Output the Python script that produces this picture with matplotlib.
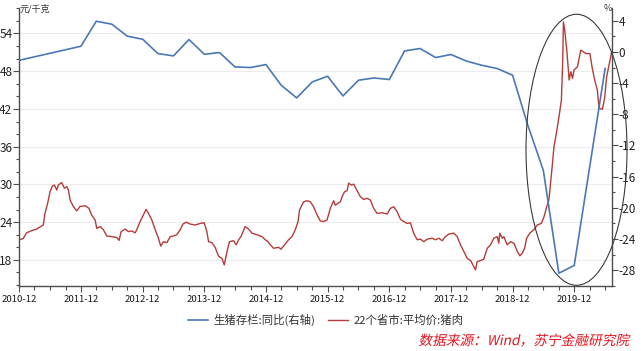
import numpy as np
import pandas as pd
import matplotlib
matplotlib.use("Agg")
import matplotlib.pyplot as plt
import matplotlib.dates as mdates
from matplotlib.patches import Ellipse, PathPatch
from matplotlib.textpath import TextPath
from matplotlib.font_manager import FontProperties
from matplotlib.transforms import Affine2D, IdentityTransform
from matplotlib.ticker import MultipleLocator

plt.rcParams["font.family"] = ["Noto Sans CJK SC", "DejaVu Sans"]
plt.rcParams["axes.unicode_minus"] = False

# 生猪存栏:同比 (%), quarterly, right axis
stock_dates = ["2010-12-01", "2011-12-01",
               "2012-03-01", "2012-06-01", "2012-09-01", "2012-12-01",
               "2013-03-01", "2013-06-01", "2013-09-01", "2013-12-01",
               "2014-03-01", "2014-06-01", "2014-09-01", "2014-12-01",
               "2015-03-01", "2015-06-01", "2015-09-01", "2015-12-01",
               "2016-03-01", "2016-06-01", "2016-09-01", "2016-12-01",
               "2017-03-01", "2017-06-01", "2017-09-01", "2017-12-01",
               "2018-03-01", "2018-06-01", "2018-09-01", "2018-12-01",
               "2019-03-01", "2019-06-01", "2019-09-01", "2019-12-01",
               "2020-06-01"]
stock_yoy = [-1.07, 0.73,
             3.94, 3.56, 2.02, 1.63,
             -0.21, -0.51, 1.59, -0.30,
             -0.08, -1.93, -2.0, -1.62,
             -4.27, -5.9, -3.85, -3.12,
             -5.65, -3.63, -3.34, -3.54,
             0.13, 0.44, -0.72, -0.33,
             -1.16, -1.71, -2.13, -2.99,
             -9.4, -15.2, -28.4, -27.4,
             -2.13]

# 22个省市:平均价:猪肉 (元/千克), left axis
price_dates = [
    "2010-12-01", "2010-12-24", "2011-01-13", "2011-02-12", "2011-03-14", "2011-04-13", "2011-04-22",
    "2011-05-02", "2011-05-18", "2011-06-01", "2011-06-15", "2011-06-27", "2011-07-11", "2011-07-20",
    "2011-08-09", "2011-08-25", "2011-09-08", "2011-09-18", "2011-09-28", "2011-10-17", "2011-11-06",
    "2011-11-26", "2011-12-26", "2012-01-18", "2012-02-03", "2012-02-23", "2012-03-04", "2012-03-24",
    "2012-04-12", "2012-05-02", "2012-06-01", "2012-07-01", "2012-07-14", "2012-07-26", "2012-08-19",
    "2012-09-07", "2012-09-28", "2012-10-17", "2012-10-27", "2012-11-16", "2012-12-05", "2012-12-21",
    "2013-01-04", "2013-01-24", "2013-02-13", "2013-03-04", "2013-03-18", "2013-04-03", "2013-04-23",
    "2013-05-13", "2013-06-01", "2013-06-21", "2013-07-11", "2013-07-27", "2013-08-16", "2013-09-08",
    "2013-10-08", "2013-11-07", "2013-11-30", "2013-12-16", "2013-12-26", "2014-01-15", "2014-02-03",
    "2014-02-23", "2014-03-15", "2014-03-29", "2014-04-14", "2014-04-29", "2014-05-23", "2014-06-08",
    "2014-06-22", "2014-07-06", "2014-07-21", "2014-07-31", "2014-08-20", "2014-09-09", "2014-10-09",
    "2014-11-07", "2014-11-27", "2014-12-13", "2014-12-27", "2015-01-15", "2015-02-14", "2015-02-28",
    "2015-03-21", "2015-04-14", "2015-05-04", "2015-05-24", "2015-06-09", "2015-06-18", "2015-07-12",
    "2015-08-01", "2015-08-21", "2015-09-09", "2015-09-30", "2015-10-19", "2015-11-08", "2015-11-28",
    "2015-12-17", "2016-01-06", "2016-01-16", "2016-01-30", "2016-02-15", "2016-02-25", "2016-03-11",
    "2016-03-26", "2016-04-04", "2016-04-20", "2016-05-04", "2016-05-24", "2016-06-12", "2016-07-02",
    "2016-07-22", "2016-08-11", "2016-08-30", "2016-09-19", "2016-10-19", "2016-11-18", "2016-12-07",
    "2016-12-27", "2017-01-16", "2017-02-05", "2017-02-24", "2017-03-16", "2017-04-05", "2017-04-24",
    "2017-05-15", "2017-06-03", "2017-06-23", "2017-07-13", "2017-08-12", "2017-08-31", "2017-09-20",
    "2017-10-10", "2017-10-29", "2017-11-18", "2017-12-18", "2018-01-07", "2018-01-26", "2018-02-15",
    "2018-03-07", "2018-03-27", "2018-04-15", "2018-04-25", "2018-05-05", "2018-05-25", "2018-06-13",
    "2018-07-04", "2018-07-23", "2018-08-12", "2018-09-01", "2018-09-10", "2018-09-16", "2018-10-01",
    "2018-10-10", "2018-10-30", "2018-11-19", "2018-12-09", "2018-12-29", "2019-01-13", "2019-01-28",
    "2019-02-10", "2019-02-22", "2019-03-13", "2019-04-06", "2019-04-26", "2019-05-20", "2019-06-05",
    "2019-06-21", "2019-07-04", "2019-07-24", "2019-08-03", "2019-08-19", "2019-09-02", "2019-09-16",
    "2019-09-24", "2019-09-28", "2019-10-06", "2019-10-18", "2019-11-01", "2019-11-11", "2019-11-21",
    "2019-11-30", "2019-12-20", "2020-01-09", "2020-01-24", "2020-02-07", "2020-03-03", "2020-03-17",
    "2020-03-31", "2020-04-16", "2020-04-26", "2020-05-16", "2020-05-29", "2020-06-10", "2020-06-30",
    "2020-07-10"]
price_vals = [
    21.2, 21.4, 22.3, 22.65, 22.9, 23.4, 23.55,
    25.4, 27.0, 28.85, 29.75, 29.9, 29.1, 29.9,
    30.3, 29.4, 29.65, 29.1, 27.5, 26.5, 25.8,
    26.5, 26.6, 26.2, 25.1, 24.35, 23.0, 23.3,
    22.8, 21.8, 21.7, 21.55, 21.1, 22.5, 22.9,
    22.5, 22.6, 22.3, 22.8, 24.1, 25.15, 26.05,
    25.4, 24.35, 22.8, 21.45, 20.2, 20.9, 20.75,
    21.7, 21.8, 22.0, 22.8, 23.7, 24.0, 23.7,
    23.55, 23.8, 23.9, 22.5, 20.9, 20.75, 20.0,
    18.6, 18.25, 17.2, 19.3, 20.9, 21.05, 20.4,
    21.2, 21.7, 22.65, 23.3, 22.9, 22.25, 22.0,
    21.7, 21.2, 20.9, 20.4, 19.85, 20.0, 19.7,
    20.4, 21.2, 21.7, 22.8, 24.1, 25.95, 27.25,
    27.4, 27.25, 26.45, 25.15, 24.2, 24.1, 24.35,
    26.2, 27.4, 26.7, 26.95, 27.25, 28.05, 28.85,
    29.0, 30.2, 29.9, 30.05, 29.0, 28.05, 27.6,
    27.8, 27.5, 26.2, 25.4, 25.5, 25.3, 26.2,
    26.45, 25.65, 24.45, 24.1, 23.8, 23.9, 22.25,
    21.2, 21.3, 20.9, 21.3, 21.45, 21.2, 21.45,
    21.05, 21.7, 22.1, 22.25, 21.7, 20.4, 19.35,
    18.25, 17.9, 16.95, 16.4, 17.7, 17.9, 18.1,
    19.85, 20.4, 21.45, 21.7, 20.65, 22.25, 21.45,
    21.7, 20.4, 20.9, 20.65, 19.35, 18.65, 19.1,
    19.85, 21.45, 22.25, 22.8, 23.55, 23.8, 24.85,
    26.45, 27.5, 33.0, 36.0, 38.4, 40.8, 43.4,
    49.75, 55.85, 54.5, 51.35, 46.6, 47.9, 46.85,
    48.2, 48.7, 51.35, 51.1, 50.8, 50.8, 48.45,
    46.6, 45.0, 42.1, 41.95, 43.7, 47.1, 49.75,
    51.1]

left_ticks = [18, 24, 30, 36, 42, 48, 54]
right_ticks = [-28, -24, -20, -16, -12, -8, -4, 0, 4]

BLUE = "#4a78b5"
RED = "#b43c3a"
SPINE = "#4d4d4d"

fig = plt.figure(figsize=(6.41, 3.51), dpi=100)
ax = fig.add_axes([19.3 / 641, 65.3 / 351, 592.4 / 641, 277.4 / 351])
ax2 = ax.twinx()

price_x = pd.to_datetime(price_dates)
stock_x = pd.to_datetime(stock_dates)

ax.plot(price_x, price_vals, color=RED, lw=1.0, label="22个省市:平均价:猪肉")
ax2.plot(stock_x, stock_yoy, color=BLUE, lw=1.2, label="生猪存栏:同比(右轴)")

ax.set_xlim(pd.Timestamp("2010-12-01"), pd.Timestamp("2020-07-10"))
ax.set_ylim(13.9, 58)
ax2.set_ylim(-30, 5.6)

ax.set_yticks(left_ticks)
ax.yaxis.set_minor_locator(MultipleLocator(2))
ax2.set_yticks(right_ticks)
ax2.yaxis.set_minor_locator(MultipleLocator(2))

ax.xaxis.set_major_locator(mdates.MonthLocator(bymonth=12))
ax.xaxis.set_minor_locator(mdates.MonthLocator(bymonth=[3, 6, 9, 12]))
ax.xaxis.set_major_formatter(mdates.DateFormatter("%Y-%m"))

ax.grid(axis="y", color="#ececec", lw=0.8)
ax.set_axisbelow(True)

for a in (ax, ax2):
    a.spines["top"].set_visible(False)
    for s in ("left", "right", "bottom"):
        a.spines[s].set_color(SPINE)
        a.spines[s].set_linewidth(1.0)
ax.spines["right"].set_visible(False)
ax2.spines["left"].set_visible(False)
ax2.spines["bottom"].set_visible(False)

ax.tick_params(axis="y", which="major", length=4, width=0.8, color=SPINE,
               labelsize=8.5, pad=1, labelcolor="#222222")
ax.tick_params(axis="y", which="minor", length=2.5, width=0.8, color=SPINE)
ax2.tick_params(axis="y", which="major", length=4, width=0.8, color=SPINE,
                labelsize=8.5, pad=1, labelcolor="#222222")
ax2.tick_params(axis="y", which="minor", length=2.5, width=0.8, color=SPINE)
ax.tick_params(axis="x", which="major", length=4, width=0.8, color=SPINE,
               labelsize=6.9, pad=3, labelcolor="#1a1a1a")
ax.tick_params(axis="x", which="minor", length=3, width=0.8, color=SPINE)

# unit labels
ax.text(0.0, 1.0, "元/千克", transform=ax.transAxes, fontsize=6.5,
        ha="left", va="center", color="#333333")
ax2.text(1.0, 1.0, "%", transform=ax2.transAxes, fontsize=6.5,
         ha="right", va="center", color="#333333")

# highlight ellipse around the 2019 swing
ell = Ellipse((0.9406, 0.49), 0.1705, 0.977, transform=ax.transAxes,
              fill=False, ec="#3a3a3a", lw=0.8, clip_on=False, zorder=5)
ax2.add_patch(ell)

h1, l1 = ax2.get_legend_handles_labels()
h2, l2 = ax.get_legend_handles_labels()
fig.legend(h1 + h2, l1 + l2, loc="center left", bbox_to_anchor=(187.7 / 641, 1 - 320 / 351),
           ncol=2, frameon=False, fontsize=8.2, handlelength=1.8, handletextpad=0.45,
           columnspacing=1.1, borderpad=0, borderaxespad=0, labelcolor="#333333")

# source note, slanted
src = "数据来源：Wind，苏宁金融研究院"
tp = TextPath((0, 0), src, size=13.7, prop=FontProperties(family="Noto Sans CJK SC"))
ext = tp.get_extents()
tr = Affine2D().translate(-ext.x0, -(ext.y0 + ext.y1) / 2).skew_deg(12, 0).translate(420, 351 - 340)
fig.patches.append(PathPatch(tp, transform=tr + IdentityTransform(), fc="#e3161f", ec="none",
                             figure=fig))

fig.savefig("out.png", dpi=100)
